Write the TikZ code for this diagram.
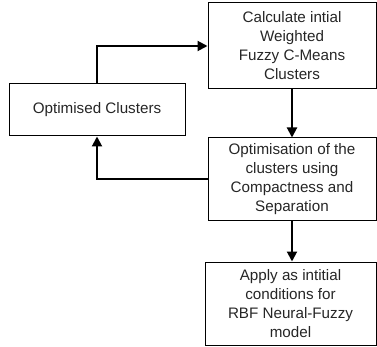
\documentclass[tikz,border=0pt]{standalone}
\usepackage{fontspec}
\setmainfont{Liberation Sans}
\usetikzlibrary{arrows.meta}
\begin{document}
\begin{tikzpicture}[x=1pt,y=-1pt,
  box/.style={draw=black, line width=1pt, inner sep=0pt, align=center,
    font=\fontsize{15.2}{19}\selectfont, text=black!85},
  flow/.style={draw=black, line width=2pt, -{Triangle[length=10pt,width=10pt]}}]
\useasboundingbox (0,0) rectangle (377,347);
\node[box, minimum width=168pt, minimum height=86pt] (calc) at (292,46)
  {Calculate intial\\Weighted\\Fuzzy C-Means\\Clusters};
\node[box, minimum width=176pt, minimum height=52pt] (optc) at (97,110)
  {Optimised Clusters};
\node[box, minimum width=168pt, minimum height=83pt] (opt) at (292,179.5)
  {Optimisation of the\\clusters using\\Compactness and\\Separation};
\node[box, minimum width=171pt, minimum height=83pt] (app) at (290.5,303.5)
  {Apply as intitial\\conditions for\\RBF Neural-Fuzzy\\model};
\draw[flow] (optc.north) |- (calc.west);
\draw[flow] (calc.south) -- (opt.north);
\draw[flow] (opt.west) -| (optc.south);
\draw[flow] (opt.south) -- (opt.south |- app.north);
\end{tikzpicture}
\end{document}
